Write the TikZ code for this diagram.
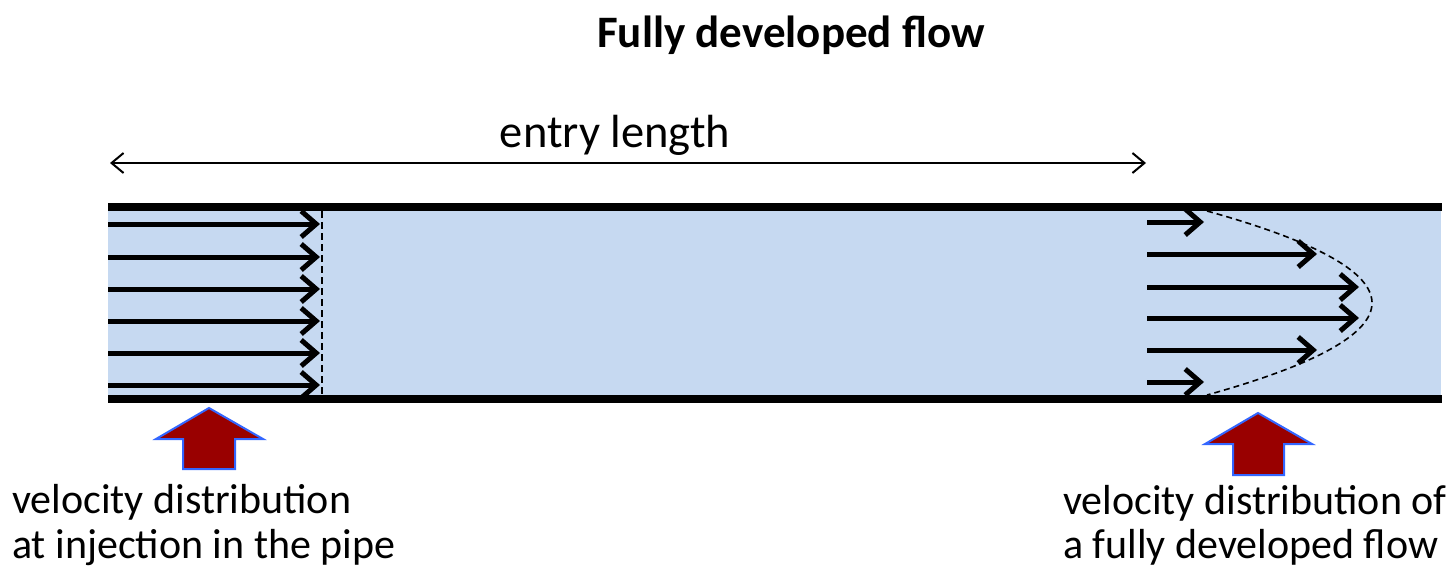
\documentclass[tikz,border=0pt]{standalone}
\usepackage{fontspec}
\setmainfont{Carlito}
\usetikzlibrary{arrows.meta}
\definecolor{pipefill}{HTML}{C6D9F1}
\definecolor{bigred}{HTML}{990000}
\definecolor{edgeblue}{HTML}{3366FF}
\begin{document}
\begin{tikzpicture}[x=1pt,y=-1pt,
  wall/.style={line width=8pt},
  flowarrow/.style={line width=5pt,-{Straight Barb[length=15pt,width=26pt]}},
  dimarrow/.style={line width=2pt,{Straight Barb[length=12pt,width=20pt]}-{Straight Barb[length=12pt,width=20pt]}},
  profile/.style={line width=2.2pt,dash pattern=on 7pt off 4pt},
  parab/.style={line width=1.6pt,dash pattern=on 6pt off 4pt},
  blockarrow/.style={fill=bigred,draw=edgeblue,line width=2pt,line join=miter},
  label/.style={inner sep=0pt,anchor=base west,font=\fontsize{42}{46}\selectfont},
  titletext/.style={inner sep=0pt,anchor=base,font=\fontsize{45}{50}\selectfont\bfseries}]
\useasboundingbox (0,0) rectangle (1455,573);
% pipe
\fill[pipefill] (108,207) rectangle (1441,398);
\draw[wall] (108,207) -- (1442,207);
\draw[wall] (108,398.5) -- (1442,398.5);
% title and entry length
\node[titletext] (title) at (791,47) {Fully developed flow};
\node[inner sep=0pt,anchor=base,font=\fontsize{46.5}{50}\selectfont] (entry) at (615,147) {entry length};
\coordinate (dimL) at (110,163);
\coordinate (dimR) at (1146,163);
\draw[dimarrow] (dimL) -- (dimR);
% uniform inlet profile
\foreach \y [count=\i] in {224,257,289,321,353,385}{
  \coordinate (inS\i) at (108,\y);
  \coordinate (inE\i) at (320,\y);
  \draw[flowarrow] (inS\i) -- (inE\i);
}
\coordinate (frontTop) at (322,211);
\coordinate (frontBot) at (322,395);
\draw[profile] (frontTop) -- (frontBot);
% developed profile
\foreach \y/\xe [count=\i] in {222/1204,254/1317,287/1359,318/1359,350/1317,382/1204}{
  \coordinate (outS\i) at (1147,\y);
  \coordinate (outE\i) at (\xe,\y);
  \draw[flowarrow] (outS\i) -- (outE\i);
}
\draw[parab] plot[domain=211:395,samples=80] ({1207+165*(1-((\x-303)/92)^2)},\x);
% block arrows
\draw[blockarrow] (209,408) -- (263,439) -- (235,439) -- (235,469) -- (183,469) -- (183,439) -- (156,439) -- cycle;
\draw[blockarrow] (1258,413) -- (1312,444) -- (1284,444) -- (1284,475) -- (1233,475) -- (1233,444) -- (1205,444) -- cycle;
% captions
\node[label] (capL1) at (12,513) {velocity distribution};
\node[label] (capL2) at (12,558) {at injection in the pipe};
\node[label] (capR1) at (1063,514) {velocity distribution of};
\node[label] (capR2) at (1063,558) {a fully developed flow};
\end{tikzpicture}
\end{document}
